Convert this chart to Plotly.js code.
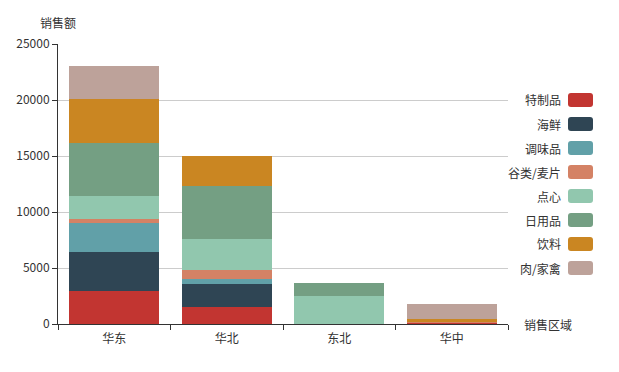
<!DOCTYPE html>
<html>
<head>
<meta charset="utf-8">
<script src="https://cdn.plot.ly/plotly-3.0.1.min.js"></script>
<style>html,body{margin:0;padding:0;background:#fff;}#chart{width:619px;height:372px;}</style>
</head>
<body>
<div id="chart"></div>
<script>
var categories = ['华东', '华北', '东北', '华中'];
var seriesNames = ['特制品', '海鲜', '调味品', '谷类/麦片', '点心', '日用品', '饮料', '肉/家禽'];
var s_tezhipin = [2950, 1490, 0, 100];
var s_haixian = [3500, 2110, 0, 0];
var s_tiaoweipin = [2530, 450, 0, 0];
var s_gulei = [360, 800, 0, 80];
var s_dianxin = [2050, 2740, 2500, 0];
var s_riyongpin = [4770, 4730, 1130, 0];
var s_yinliao = [3890, 2680, 0, 250];
var s_roujiaqin = [2950, 0, 0, 1350];
var seriesValues = [s_tezhipin, s_haixian, s_tiaoweipin, s_gulei, s_dianxin, s_riyongpin, s_yinliao, s_roujiaqin];
var colors = ['#c23531', '#2f4554', '#61a0a8', '#d48265', '#91c7ae', '#749f83', '#ca8622', '#bda29a'];
var yTicks = [0, 5000, 10000, 15000, 20000, 25000];

var FONT = '"Noto Sans CJK SC", "Noto Sans", sans-serif';
var traces = seriesNames.map(function (n, i) {
  return {
    type: 'bar', name: n, x: categories, y: seriesValues[i],
    marker: {color: colors[i], line: {width: 0}},
    hoverinfo: 'x+y+name'
  };
});

var annotations = [
  {text: '销售额', xref: 'paper', yref: 'paper', x: 0, y: 1, xshift: 0, yshift: 22, xanchor: 'center', yanchor: 'middle', showarrow: false, font: {size: 12, color: '#333', family: FONT}},
  {text: '销售区域', xref: 'paper', yref: 'paper', x: 1, y: 0, xshift: 14, xanchor: 'left', yanchor: 'middle', showarrow: false, font: {size: 12, color: '#333', family: FONT}}
];
var shapes = [];
var r = 3, w = 12.5, h = 7;
var rr = 'M ' + (-w + r) + ',' + (-h) + ' L ' + (w - r) + ',' + (-h) + ' Q ' + w + ',' + (-h) + ' ' + w + ',' + (-h + r) +
  ' L ' + w + ',' + (h - r) + ' Q ' + w + ',' + h + ' ' + (w - r) + ',' + h + ' L ' + (-w + r) + ',' + h +
  ' Q ' + (-w) + ',' + h + ' ' + (-w) + ',' + (h - r) + ' L ' + (-w) + ',' + (-h + r) + ' Q ' + (-w) + ',' + (-h) + ' ' + (-w + r) + ',' + (-h) + ' Z';
seriesNames.forEach(function (n, i) {
  var yp = 0.8 - i * 24 / 280;
  annotations.push({text: n, xref: 'paper', yref: 'paper', x: 505 / 450, y: yp, xanchor: 'right', yanchor: 'middle', showarrow: false, font: {size: 12, color: '#333', family: FONT}});
  shapes.push({type: 'path', xref: 'paper', yref: 'paper', xsizemode: 'pixel', ysizemode: 'pixel', xanchor: 522.5 / 450, yanchor: yp, path: rr, fillcolor: colors[i], line: {width: 0}});
});

var layout = {
  width: 619, height: 372,
  margin: {l: 58, r: 111, t: 44, b: 48},
  barmode: 'stack', bargap: 0.2,
  showlegend: false,
  paper_bgcolor: '#fff', plot_bgcolor: '#fff',
  font: {family: FONT, size: 12, color: '#333'},
  xaxis: {
    type: 'category', tickson: 'boundaries', ticks: 'outside', ticklen: 5, tickcolor: '#333',
    showline: true, linecolor: '#333', linewidth: 1, showgrid: false, zeroline: false,
    ticklabelstandoff: 4,
    tickfont: {size: 12, color: '#333', family: FONT}, fixedrange: true
  },
  yaxis: {
    range: [0, 25000], tickvals: yTicks, ticktext: yTicks.map(String), ticks: 'outside', ticklen: 5, tickcolor: '#333',
    showline: true, linecolor: '#333', linewidth: 1, showgrid: true, gridcolor: '#ccc', gridwidth: 1, zeroline: false,
    tickfont: {size: 12, color: '#333', family: FONT}, fixedrange: true
  },
  annotations: annotations,
  shapes: shapes
};
Plotly.newPlot('chart', traces, layout, {displayModeBar: false, staticPlot: true});
</script>
</body>
</html>
